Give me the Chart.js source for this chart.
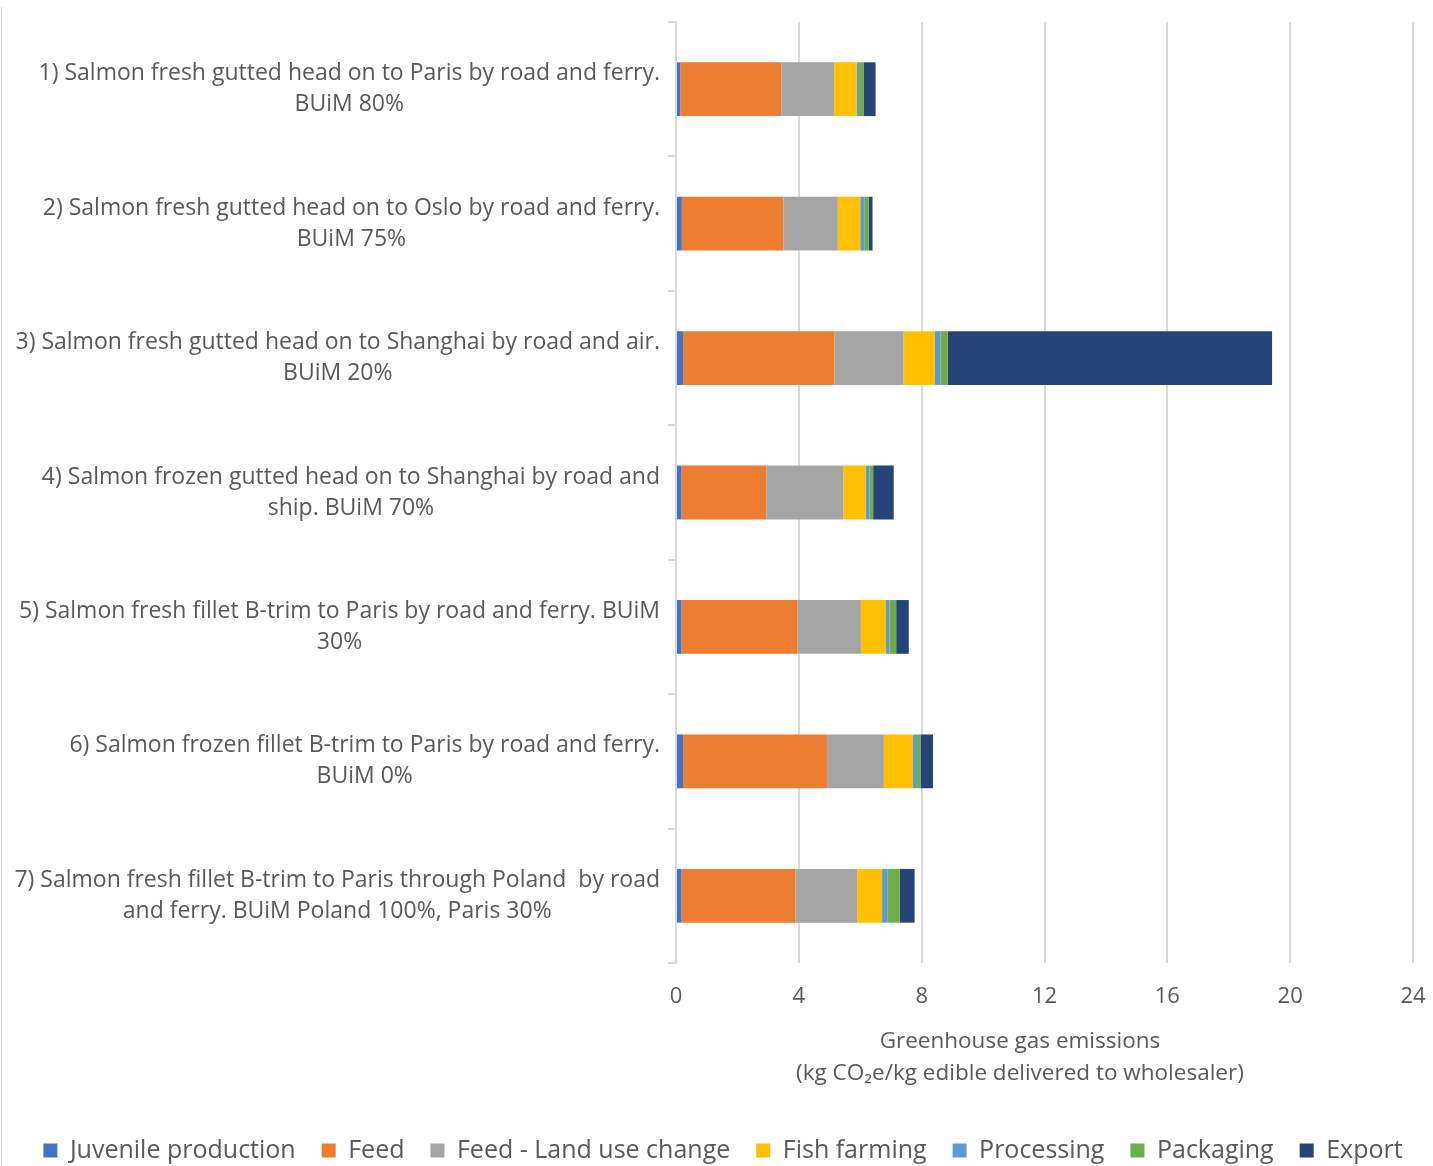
<!DOCTYPE html>
<html>
<head>
<meta charset="utf-8">
<script src="https://cdn.jsdelivr.net/npm/chart.js@4"></script>
<style>
    html, body { margin: 0; padding: 0; background: #ffffff; }
    #wrap { position: relative; width: 1433px; height: 1166px; }
    #wrap:before { content: ''; position: absolute; left: 1px; top: 7px; bottom: 0; width: 1px; background: #d9d9d9; }
</style>
</head>
<body>
<div id="wrap"><canvas id="chart" width="1433" height="1166"></canvas></div>
<script>
// Category labels (two lines each, as wrapped in the original)
const categories = [
    ['1) Salmon fresh gutted head on to Paris by road and ferry.', 'BUiM 80%'],
    ['2) Salmon fresh gutted head on to Oslo by road and ferry.', 'BUiM 75%'],
    ['3) Salmon fresh gutted head on to Shanghai by road and air.', 'BUiM 20%'],
    ['4) Salmon frozen gutted head on to Shanghai by road and', 'ship. BUiM 70%'],
    ['5) Salmon fresh fillet B-trim to Paris by road and ferry. BUiM', '30%'],
    ['6) Salmon frozen fillet B-trim to Paris by road and ferry.', 'BUiM 0%'],
    ['7) Salmon fresh fillet B-trim to Paris through Poland  by road', 'and ferry. BUiM Poland 100%, Paris 30%']
];

// Emission contributions (kg CO2e/kg edible), one value per category
const juvenileProduction = [0.14, 0.19, 0.23, 0.18, 0.18, 0.23, 0.18];
const feed               = [3.29, 3.31, 4.93, 2.76, 3.78, 4.69, 3.71];
const feedLandUseChange  = [1.72, 1.77, 2.25, 2.51, 2.06, 1.85, 2.01];
const fishFarming        = [0.73, 0.73, 1.02, 0.73, 0.82, 0.95, 0.81];
const processing         = [0.08, 0.13, 0.18, 0.12, 0.11, 0.13, 0.17];
const packaging          = [0.16, 0.15, 0.24, 0.12, 0.22, 0.11, 0.41];
const exportTransport    = [0.38, 0.12, 10.56, 0.67, 0.41, 0.41, 0.48];

const xTicks = [0, 4, 8, 12, 16, 20, 24];
const xTitle = ['Greenhouse gas emissions', '(kg CO\u2082e/kg edible delivered to wholesaler)'];

const textColor = '#595959';
const gridColor = '#d9d9d9';
const fontFamily = '"Open Sans", Lato, sans-serif';

/**
 * Draw the category labels right-aligned as a block, lines centred,
 * and the two-line x axis title
 */
const labelPlugin = {
    id: 'categoryLabels',
    afterDraw(chart) {
        const xScale = chart.scales.x;
        const yScale = chart.scales.y;
        const ctx = chart.ctx;
        const lineHeight = 31;
        ctx.save();
        ctx.font = '23px ' + fontFamily;
        ctx.fillStyle = textColor;
        ctx.textAlign = 'center';
        ctx.textBaseline = 'middle';
        categories.forEach((lines, i) => {
            const y = yScale.getPixelForValue(i);
            const maxWidth = Math.max(...lines.map(l => ctx.measureText(l).width));
            const centerX = yScale.right - 16 - maxWidth / 2;
            const startY = y - (lines.length - 1) * lineHeight / 2;
            lines.forEach((line, j) => {
                ctx.fillText(line, centerX, startY + j * lineHeight);
            });
        });

        // Axis title, sits a little left of the plot centre as in the original
        ctx.font = '22.5px ' + fontFamily;
        const titleX = xScale.getPixelForValue(11.2);
        xTitle.forEach((line, j) => {
            ctx.fillText(line, titleX, xScale.top + 79 + j * 32);
        });
        ctx.restore();
    }
};

function makeDataset(label, data, color) {
    return {
        label: label,
        data: data,
        backgroundColor: color,
        borderWidth: 0,
        barPercentage: 0.8,
        categoryPercentage: 0.5
    };
}

document.addEventListener('DOMContentLoaded', function() {
    const ctx = document.getElementById('chart');

    new Chart(ctx, {
        type: 'bar',
        data: {
            labels: categories,
            datasets: [
                makeDataset('Juvenile production', juvenileProduction, '#4472C4'),
                makeDataset('Feed', feed, '#ED7D31'),
                makeDataset('Feed - Land use change', feedLandUseChange, '#A5A5A5'),
                makeDataset('Fish farming', fishFarming, '#FFC000'),
                makeDataset('Processing', processing, '#5B9BD5'),
                makeDataset('Packaging', packaging, '#70AD47'),
                makeDataset('Export', exportTransport, '#264478')
            ]
        },
        options: {
            indexAxis: 'y',
            responsive: false,
            animation: false,
            layout: {
                padding: { top: 22, right: 0, bottom: -7, left: 13 }
            },
            scales: {
                x: {
                    stacked: true,
                    min: 0,
                    max: 24,
                    afterBuildTicks: scale => {
                        scale.ticks = xTicks.map(v => ({ value: v }));
                    },
                    afterFit: scale => {
                        scale.height = 149;
                        scale.paddingLeft = 0;
                        scale.paddingRight = 0;
                    },
                    grid: {
                        color: gridColor,
                        lineWidth: 2,
                        drawTicks: false
                    },
                    border: { display: false },
                    ticks: {
                        color: textColor,
                        font: { family: fontFamily, size: 22 },
                        padding: 21
                    }
                },
                y: {
                    stacked: true,
                    afterFit: scale => { scale.width = 663; },
                    grid: {
                        color: gridColor,
                        lineWidth: 2,
                        offset: true,
                        drawOnChartArea: false,
                        tickLength: 8
                    },
                    border: { color: gridColor, width: 2 },
                    ticks: { display: false }
                },
                // empty right-hand gutter so the legend can use the full width
                gutter: {
                    type: 'linear',
                    position: 'right',
                    afterFit: scale => { scale.width = 20; },
                    grid: { display: false },
                    border: { display: false },
                    ticks: { display: false }
                }
            },
            plugins: {
                legend: {
                    position: 'bottom',
                    labels: {
                        color: textColor,
                        font: { family: fontFamily, size: 25 },
                        boxWidth: 14,
                        boxHeight: 14,
                        padding: 26
                    }
                },
                tooltip: { enabled: false }
            }
        },
        plugins: [labelPlugin]
    });
});
</script>
</body>
</html>
